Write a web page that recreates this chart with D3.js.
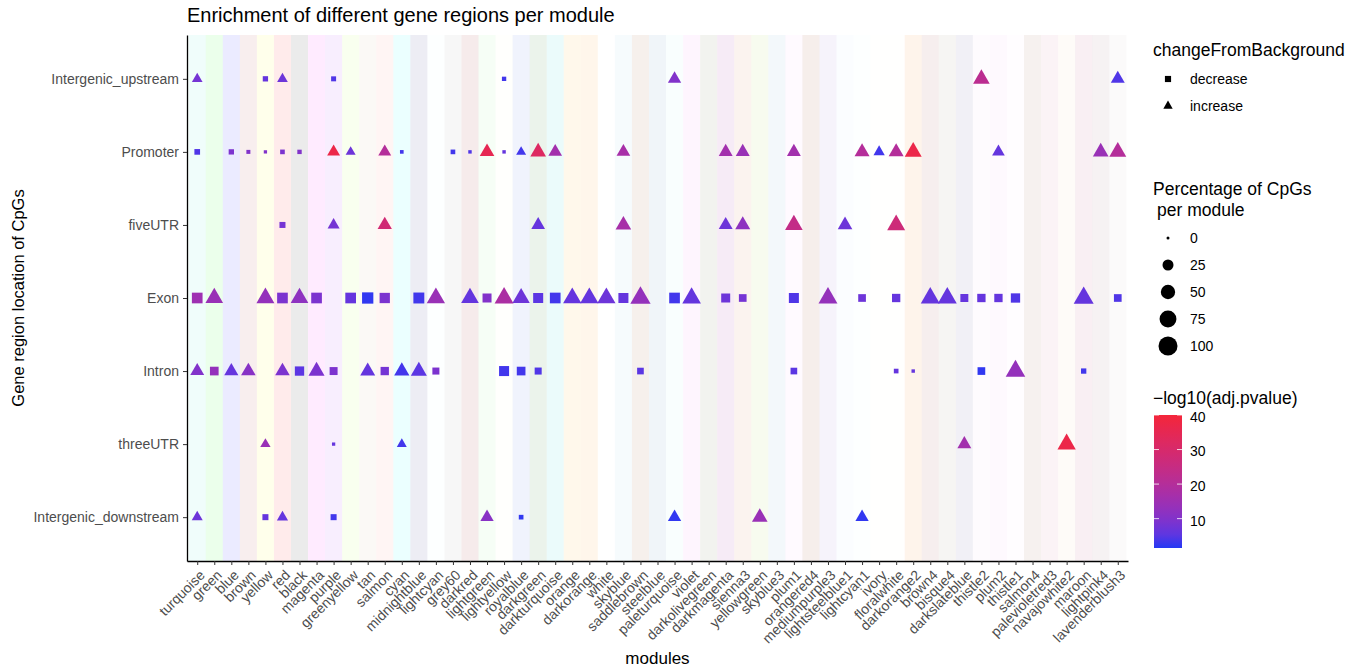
<!DOCTYPE html>
<html lang="en">
<head>
    <meta charset="UTF-8">
    <title>Enrichment of different gene regions per module</title>
    <script src="https://d3js.org/d3.v7.min.js"></script>
    <style>
        body { margin: 0; background: #fff; }
        svg text { font-family: "Liberation Sans", Arial, Helvetica, sans-serif; }
        .axis .tick text { fill: #4d4d4d; font-size: 14px; }
        .axis .tick line { stroke: #333; }
        .axis .domain { stroke: #000; stroke-width: 1.3; }
    </style>
</head>
<body>
    <svg id="chart" width="1362" height="668"></svg>
    <script>
        const modules = ["turquoise", "green", "blue", "brown", "yellow", "red", "black", "magenta", "purple",
            "greenyellow", "tan", "salmon", "cyan", "midnightblue", "lightcyan", "grey60", "darkred", "lightgreen",
            "lightyellow", "royalblue", "darkgreen", "darkturquoise", "orange", "darkorange", "white", "skyblue",
            "saddlebrown", "steelblue", "paleturquoise", "violet", "darkolivegreen", "darkmagenta", "sienna3",
            "yellowgreen", "skyblue3", "plum1", "orangered4", "mediumpurple3", "lightsteelblue1", "lightcyan1",
            "ivory", "floralwhite", "darkorange2", "brown4", "bisque4", "darkslateblue", "thistle2", "plum2",
            "thistle1", "salmon4", "palevioletred3", "navajowhite2", "maroon", "lightpink4", "lavenderblush3"];

        // R colour names that CSS does not know (or knows differently)
        const rColors = {
            green: "#00FF00", purple: "#A020F0", grey60: "#999999", maroon: "#B03060", sienna3: "#CD6839",
            skyblue3: "#6CA6CD", plum1: "#FFBBFF", orangered4: "#8B2500", mediumpurple3: "#8968CD",
            lightsteelblue1: "#CAE1FF", lightcyan1: "#E0FFFF", darkorange2: "#EE7600", brown4: "#8B2323",
            bisque4: "#8B7D6B", thistle2: "#EED2EE", plum2: "#EEAEEE", thistle1: "#FFE1FF", salmon4: "#8B4C39",
            palevioletred3: "#CD6889", navajowhite2: "#EECFA1", lightpink4: "#8B5F65", lavenderblush3: "#CDC1C5"
        };

        const regions = ["Intergenic_upstream", "Promoter", "fiveUTR", "Exon", "Intron", "threeUTR", "Intergenic_downstream"];
        const changeTypes = ["decrease", "increase"];
        const sizeBreaks = [0, 25, 50, 75, 100];
        const colorTicks = [10, 20, 30, 40];

        // [module, changeFromBackground, percentage of CpGs, -log10(adj.pvalue)]
        const upstreamPts = [
            ["turquoise", "increase", 9.5, 8], ["yellow", "decrease", 3.5, 6], ["red", "increase", 9.5, 7],
            ["purple", "decrease", 2.7, 4], ["lightyellow", "decrease", 1.4, 3], ["paleturquoise", "increase", 18.6, 10],
            ["thistle2", "increase", 34, 22], ["lavenderblush3", "increase", 21, 4]
        ];
        const promoterPts = [
            ["turquoise", "decrease", 4.5, 4], ["blue", "decrease", 3.5, 9], ["brown", "decrease", 0.9, 10],
            ["yellow", "decrease", 0.2, 10], ["red", "decrease", 2, 9], ["black", "decrease", 1.5, 10],
            ["purple", "increase", 17, 37], ["greenyellow", "increase", 7.6, 7], ["salmon", "increase", 17, 20],
            ["cyan", "decrease", 0.5, 3], ["grey60", "decrease", 2, 3], ["darkred", "decrease", 0.3, 4],
            ["lightgreen", "increase", 24, 35], ["lightyellow", "decrease", 0.3, 6], ["royalblue", "increase", 7.6, 3],
            ["darkgreen", "increase", 29, 32], ["darkturquoise", "increase", 20, 16], ["skyblue", "increase", 20, 17],
            ["darkmagenta", "increase", 21, 16], ["sienna3", "increase", 21, 14], ["plum1", "increase", 21, 16],
            ["lightcyan1", "increase", 26, 20], ["ivory", "increase", 11.4, 3], ["floralwhite", "increase", 26, 20],
            ["darkorange2", "increase", 36, 37], ["plum2", "increase", 16, 6], ["lightpink4", "increase", 29, 14],
            ["lavenderblush3", "increase", 36, 20]
        ];
        const fiveUTRPts = [
            ["red", "decrease", 5.6, 8], ["purple", "increase", 13.7, 8], ["salmon", "increase", 22.6, 28],
            ["darkgreen", "increase", 20, 6], ["skyblue", "increase", 29, 17], ["darkmagenta", "increase", 21, 7],
            ["sienna3", "increase", 26, 12], ["plum1", "increase", 40, 24], ["lightsteelblue1", "increase", 24, 7],
            ["floralwhite", "increase", 42, 27]
        ];
        const exonPts = [
            ["turquoise", "decrease", 32, 15], ["green", "increase", 40, 14], ["yellow", "increase", 42, 13],
            ["red", "decrease", 32, 9], ["black", "increase", 40, 12], ["magenta", "decrease", 32, 9],
            ["greenyellow", "decrease", 32, 6], ["tan", "decrease", 37, 2], ["salmon", "decrease", 29, 9],
            ["midnightblue", "decrease", 34, 3], ["lightcyan", "increase", 44, 14], ["darkred", "increase", 40, 6],
            ["lightgreen", "decrease", 20, 10], ["lightyellow", "increase", 48, 18], ["royalblue", "increase", 38, 7],
            ["darkgreen", "decrease", 27, 5], ["darkturquoise", "decrease", 32, 3], ["orange", "increase", 44, 6],
            ["darkorange", "increase", 44, 6], ["white", "increase", 44, 7], ["skyblue", "decrease", 27, 6],
            ["saddlebrown", "increase", 57, 13], ["paleturquoise", "decrease", 32, 3], ["violet", "increase", 46, 6],
            ["darkmagenta", "decrease", 20, 7], ["sienna3", "decrease", 12.6, 8], ["plum1", "decrease", 27, 4],
            ["mediumpurple3", "increase", 48, 13], ["lightcyan1", "decrease", 12.6, 7], ["floralwhite", "decrease", 16, 6],
            ["brown4", "increase", 48, 6], ["bisque4", "increase", 48, 6], ["darkslateblue", "decrease", 14, 6],
            ["thistle2", "decrease", 16, 6], ["plum2", "decrease", 16, 6], ["thistle1", "decrease", 22, 4],
            ["maroon", "increase", 55, 6], ["lavenderblush3", "decrease", 12.6, 4]
        ];
        const intronPts = [
            ["turquoise", "increase", 21, 10], ["green", "decrease", 18, 13], ["blue", "increase", 22, 6],
            ["brown", "increase", 24, 11], ["red", "increase", 24, 9], ["black", "decrease", 22, 5],
            ["magenta", "increase", 31, 9], ["purple", "decrease", 14, 9], ["tan", "increase", 26, 6],
            ["salmon", "decrease", 16, 8], ["cyan", "increase", 27, 3], ["midnightblue", "increase", 31, 5],
            ["lightcyan", "decrease", 9.5, 9], ["lightyellow", "decrease", 27, 3], ["royalblue", "decrease", 18, 3],
            ["darkgreen", "decrease", 9.5, 4], ["saddlebrown", "decrease", 8, 5], ["plum1", "decrease", 8, 5],
            ["floralwhite", "decrease", 2, 6], ["darkorange2", "decrease", 0.3, 6], ["thistle2", "decrease", 12.6, 2],
            ["thistle1", "increase", 52, 13], ["maroon", "decrease", 3.5, 3]
        ];
        const threeUTRPts = [
            ["yellow", "increase", 8.5, 14], ["purple", "decrease", 0.2, 6], ["cyan", "increase", 7.6, 3],
            ["darkslateblue", "increase", 21, 16], ["navajowhite2", "increase", 44, 37]
        ];
        const downstreamPts = [
            ["turquoise", "increase", 10.5, 7], ["yellow", "decrease", 5.6, 6], ["red", "increase", 11, 6],
            ["purple", "decrease", 5.6, 3], ["lightgreen", "increase", 18.6, 11], ["royalblue", "decrease", 2, 2],
            ["paleturquoise", "increase", 18.6, 2], ["yellowgreen", "increase", 29, 14], ["lightcyan1", "increase", 18.6, 2]
        ];

        const regionPts = [upstreamPts, promoterPts, fiveUTRPts, exonPts, intronPts, threeUTRPts, downstreamPts];
        const points = [];
        regionPts.forEach((pts, i) => pts.forEach(p => points.push({
            module: p[0], region: regions[i], change: p[1], pct: p[2], logp: p[3]
        })));

        const svg = d3.select("#chart");
        const panel = {left: 187, right: 1128, top: 35, bottom: 561};

        const x = d3.scalePoint().domain(modules).range([panel.left, panel.right]).padding(0.6);
        const y = d3.scalePoint().domain(regions).range([panel.top, panel.bottom]).padding(0.6);
        const step = x.step();

        const size = d3.scaleSqrt().domain([0, 100]).range([3, 19]);   // equivalent diameter
        const color = d3.scaleLinear().domain([1.5, 40]).range(["#2438f4", "#f4263a"]).interpolate(d3.interpolateLab);
        const shape = d3.scaleOrdinal().domain(changeTypes).range([d3.symbolSquare, d3.symbolTriangle]);
        const area = d => Math.PI * size(d) * size(d) / 4;

        // module colour stripes
        svg.append("g").selectAll("rect")
            .data(modules)
            .join("rect")
            .attr("x", d => x(d) - step / 2)
            .attr("width", step)
            .attr("y", panel.top)
            .attr("height", panel.bottom - panel.top)
            .attr("fill", d => rColors[d] || d)
            .attr("fill-opacity", 0.08);

        // axes
        const xAxis = svg.append("g")
            .attr("class", "axis")
            .attr("transform", `translate(0,${panel.bottom})`)
            .call(d3.axisBottom(x).tickSize(4).tickSizeOuter(0));
        xAxis.selectAll(".tick text")
            .attr("y", 0)
            .attr("dy", 0)
            .attr("text-anchor", "end")
            .attr("transform", "translate(8,15) rotate(-45)");

        svg.append("g")
            .attr("class", "axis")
            .attr("transform", `translate(${panel.left},0)`)
            .call(d3.axisLeft(y).tickSize(4).tickSizeOuter(0).tickPadding(4));

        // points
        svg.append("g").selectAll("path")
            .data(points)
            .join("path")
            .attr("transform", d => `translate(${x(d.module)},${y(d.region)})`)
            .attr("d", d => d3.symbol().type(shape(d.change)).size(area(d.pct))())
            .attr("fill", d => color(d.logp));

        // titles
        svg.append("text")
            .attr("x", panel.left)
            .attr("y", 22)
            .style("font-size", "20px")
            .text("Enrichment of different gene regions per module");

        svg.append("text")
            .attr("x", (panel.left + panel.right) / 2)
            .attr("y", 664)
            .attr("text-anchor", "middle")
            .style("font-size", "17px")
            .text("modules");

        svg.append("text")
            .attr("transform", `translate(24,${(panel.top + panel.bottom) / 2}) rotate(-90)`)
            .attr("text-anchor", "middle")
            .style("font-size", "16.5px")
            .text("Gene region location of CpGs");

        // legend: shape
        const lg = svg.append("g").attr("transform", "translate(1153,0)");
        lg.append("text").attr("x", 0).attr("y", 56).style("font-size", "17.5px").text("changeFromBackground");
        lg.selectAll(".shapeKey")
            .data(changeTypes)
            .join("path")
            .attr("transform", (d, i) => `translate(15,${79 + i * 27})`)
            .attr("d", d => d3.symbol().type(shape(d)).size(38)())
            .attr("fill", "#000");
        lg.selectAll(".shapeLab")
            .data(changeTypes)
            .join("text")
            .attr("x", 37)
            .attr("y", (d, i) => 79 + i * 27)
            .attr("dy", "0.35em")
            .style("font-size", "14px")
            .text(d => d);

        // legend: size
        lg.append("text").attr("x", 0).attr("y", 195).style("font-size", "17.5px").text("Percentage of CpGs");
        lg.append("text").attr("x", 4).attr("y", 216).style("font-size", "17.5px").text("per module");
        lg.selectAll(".sizeKey")
            .data(sizeBreaks)
            .join("circle")
            .attr("cx", 15)
            .attr("cy", (d, i) => 238 + i * 27)
            .attr("r", d => size(d) / 2)
            .attr("fill", "#000");
        lg.selectAll(".sizeLab")
            .data(sizeBreaks)
            .join("text")
            .attr("x", 37)
            .attr("y", (d, i) => 238 + i * 27)
            .attr("dy", "0.35em")
            .style("font-size", "14px")
            .text(d => d);

        // legend: colour bar
        lg.append("text").attr("x", 0).attr("y", 404).style("font-size", "17.5px").text("\u2212log10(adj.pvalue)");
        const barY = d3.scaleLinear().domain(color.domain()).range([548, 415]);
        const defs = svg.append("defs");
        const grad = defs.append("linearGradient")
            .attr("id", "pgrad")
            .attr("x1", 0).attr("y1", 1).attr("x2", 0).attr("y2", 0);
        grad.selectAll("stop")
            .data(d3.range(0, 1.0001, 0.1))
            .join("stop")
            .attr("offset", d => d)
            .attr("stop-color", d => color(color.domain()[0] + d * (color.domain()[1] - color.domain()[0])));
        lg.append("rect")
            .attr("x", 1).attr("width", 28)
            .attr("y", barY(40)).attr("height", barY(1.5) - barY(40))
            .attr("fill", "url(#pgrad)");
        colorTicks.forEach(t => {
            lg.append("line").attr("x1", 1).attr("x2", 6).attr("y1", barY(t)).attr("y2", barY(t)).attr("stroke", "#fff").attr("stroke-opacity", 0.8);
            lg.append("line").attr("x1", 24).attr("x2", 29).attr("y1", barY(t)).attr("y2", barY(t)).attr("stroke", "#fff").attr("stroke-opacity", 0.8);
        });
        lg.selectAll(".barLab")
            .data(colorTicks)
            .join("text")
            .attr("x", 37)
            .attr("y", d => barY(d) + 2)
            .attr("dy", "0.35em")
            .style("font-size", "14px")
            .text(d => d);
    </script>
</body>
</html>
